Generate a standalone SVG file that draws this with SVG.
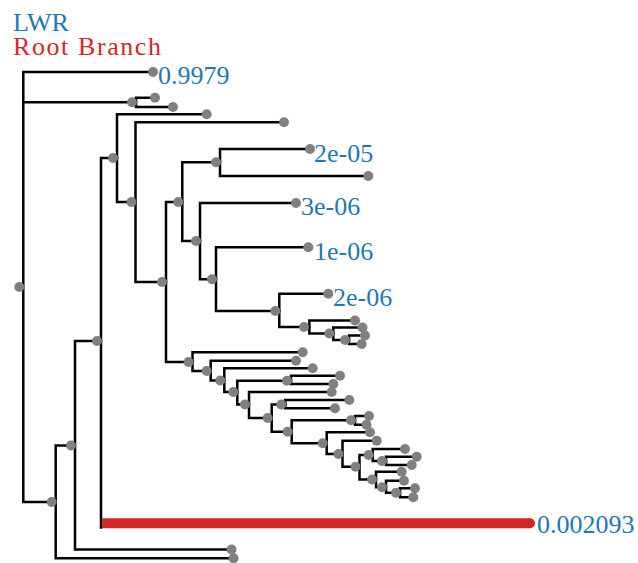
<svg xmlns="http://www.w3.org/2000/svg" width="638" height="563" viewBox="0 0 638 563">
<style>
.br{fill:none;stroke:#000;stroke-width:2.5;stroke-linejoin:miter;stroke-linecap:square}
.red{fill:none;stroke:#d62728;stroke-width:10}
.d{fill:#808080}
.lbl{font-family:"Liberation Serif","Times New Roman",serif;font-size:26px;fill:#1f77b4}
.rl{font-family:"Liberation Serif","Times New Roman",serif;font-size:26px;fill:#d62728}
</style>
<rect width="638" height="563" fill="#fff"/>
<g id="legend">
<text class="lbl" x="13" y="30.5">LWR</text>
<text class="rl" x="13" y="55" textLength="148">Root Branch</text>
</g>
<g id="connectors">
<path class="br" d="M153,72 H23.3 V502 H55.7"/>
<path class="br" d="M23.3,102.3 H136"/>
<path class="br" d="M155,97.7 H136 V107 H173"/>
<path class="br" d="M75,445.5 H55.7 V558.3 H233.5"/>
<path class="br" d="M101,341 H75 V549.5 H231.5"/>
<path class="br" d="M117,158 H101 V527.5"/>
<path class="red" d="M102,523.3 H530"/>
<path class="br" d="M206.7,114.3 H117 V202 H135.5"/>
<path class="br" d="M284,122.3 H135.5 V282 H166"/>
<path class="br" d="M182.3,202 H166 V362 H192.5"/>
<path class="br" d="M220,162.3 H182.3 V241 H200"/>
<path class="br" d="M310,149 H220 V176 H368.3"/>
<path class="br" d="M296,203 H200 V279.3 H216"/>
<path class="br" d="M308.3,247.3 H216 V311 H279.3"/>
<path class="br" d="M328.3,293.8 H279.3 V327 H309.3"/>
<path class="br" d="M355,320.5 H309.3 V333.5 H333.3"/>
<path class="br" d="M362.5,327.5 H333.3 V340 H349"/>
<path class="br" d="M365,335.5 H349 V344 H361.7"/>
<path class="br" d="M302.7,352.3 H192.5 V371 H210.7"/>
<path class="br" d="M296,360.7 H210.7 V380.5 H224.3"/>
<path class="br" d="M312.7,368.3 H224.3 V392 H237.3"/>
<path class="br" d="M291,380.7 H237.3 V404.5 H249"/>
<path class="br" d="M340,375.7 H291 V384 H333.3"/>
<path class="br" d="M331.7,392 H249 V418 H271.7"/>
<path class="br" d="M285.3,404.5 H271.7 V431.7 H291.7"/>
<path class="br" d="M349.3,400 H285.3 V408.3 H335"/>
<path class="br" d="M355,420.3 H291.7 V443.3 H326.7"/>
<path class="br" d="M369,416 H355 V424.7 H366.5"/>
<path class="br" d="M370,432.3 H326.7 V454 H342.5"/>
<path class="br" d="M376.7,440.7 H342.5 V466.8 H359.5"/>
<path class="br" d="M372.7,455 H359.5 V479.5 H376"/>
<path class="br" d="M405,449 H372.7 V461 H386"/>
<path class="br" d="M416.7,456.7 H386 V465 H411.7"/>
<path class="br" d="M401.7,471.7 H376 V487.3 H386"/>
<path class="br" d="M404,480.7 H386 V492.8 H400"/>
<path class="br" d="M415,488.3 H400 V497.3 H413.3"/>
</g>
<g id="nodes">
<g id="n-root"><circle class="d" cx="19.3" cy="287" r="5"/></g>
<g id="n-a"><circle class="d" cx="153" cy="72" r="5"/><text class="lbl" x="158" y="83.5">0.9979</text></g>
<g id="n-b"><circle class="d" cx="132" cy="102.3" r="5"/><circle class="d" cx="155" cy="97.7" r="5"/><circle class="d" cx="173" cy="107" r="5"/></g>
<g id="n-c"><circle class="d" cx="51.7" cy="502" r="5"/><circle class="d" cx="233.5" cy="558.3" r="5"/></g>
<g id="n-d"><circle class="d" cx="71" cy="445.5" r="5"/><circle class="d" cx="231.5" cy="549.5" r="5"/></g>
<g id="n-e"><circle class="d" cx="97" cy="341" r="5"/></g>
<g id="n-red"><circle cx="530" cy="523.3" r="5" fill="#d62728"/><text class="lbl" x="537" y="532.5">0.002093</text></g>
<g id="n-f"><circle class="d" cx="113" cy="158" r="5"/><circle class="d" cx="206.7" cy="114.3" r="5"/></g>
<g id="n-g"><circle class="d" cx="131.5" cy="202" r="5"/><circle class="d" cx="284" cy="122.3" r="5"/></g>
<g id="n-h"><circle class="d" cx="162" cy="282" r="5"/></g>
<g id="n-i"><circle class="d" cx="178.3" cy="202" r="5"/></g>
<g id="n-j"><circle class="d" cx="216" cy="162.3" r="5"/><circle class="d" cx="310" cy="149" r="5"/><circle class="d" cx="368.3" cy="176" r="5"/><text class="lbl" x="314" y="161.5">2e-05</text></g>
<g id="n-k"><circle class="d" cx="196" cy="241" r="5"/><circle class="d" cx="296" cy="203" r="5"/><text class="lbl" x="301" y="214.5">3e-06</text></g>
<g id="n-l"><circle class="d" cx="212" cy="279.3" r="5"/><circle class="d" cx="308.3" cy="247.3" r="5"/><text class="lbl" x="314" y="259.5">1e-06</text></g>
<g id="n-m"><circle class="d" cx="275.3" cy="311" r="5"/><circle class="d" cx="328.3" cy="293.8" r="5"/><text class="lbl" x="333" y="305.7">2e-06</text></g>
<g id="n-n"><circle class="d" cx="304" cy="327" r="5"/><circle class="d" cx="355" cy="320.5" r="5"/></g>
<g id="n-o"><circle class="d" cx="329.3" cy="333.5" r="5"/><circle class="d" cx="362.5" cy="327.5" r="5"/></g>
<g id="n-oo"><circle class="d" cx="345" cy="340" r="5"/><circle class="d" cx="365" cy="335.5" r="5"/><circle class="d" cx="361.7" cy="344" r="5"/></g>
<g id="n-p"><circle class="d" cx="188.5" cy="362" r="5"/><circle class="d" cx="302.7" cy="352.3" r="5"/></g>
<g id="n-q"><circle class="d" cx="206.7" cy="371" r="5"/><circle class="d" cx="296" cy="360.7" r="5"/></g>
<g id="n-r"><circle class="d" cx="220.3" cy="380.5" r="5"/><circle class="d" cx="312.7" cy="368.3" r="5"/></g>
<g id="n-s"><circle class="d" cx="233.3" cy="392" r="5"/></g>
<g id="n-t"><circle class="d" cx="287" cy="380.7" r="5"/><circle class="d" cx="340" cy="375.7" r="5"/><circle class="d" cx="333.3" cy="384" r="5"/></g>
<g id="n-u"><circle class="d" cx="245" cy="404.5" r="5"/><circle class="d" cx="331.7" cy="392" r="5"/></g>
<g id="n-v"><circle class="d" cx="267.7" cy="418" r="5"/></g>
<g id="n-w"><circle class="d" cx="281.3" cy="404.5" r="5"/><circle class="d" cx="349.3" cy="400" r="5"/><circle class="d" cx="335" cy="408.3" r="5"/></g>
<g id="n-x"><circle class="d" cx="287.7" cy="431.7" r="5"/></g>
<g id="n-y"><circle class="d" cx="351" cy="420.3" r="5"/><circle class="d" cx="369" cy="416" r="5"/><circle class="d" cx="366.5" cy="424.7" r="5"/></g>
<g id="n-z"><circle class="d" cx="322.7" cy="443.3" r="5"/><circle class="d" cx="370" cy="432.3" r="5"/></g>
<g id="n-aa"><circle class="d" cx="338.5" cy="454" r="5"/><circle class="d" cx="376.7" cy="440.7" r="5"/></g>
<g id="n-dd"><circle class="d" cx="355.5" cy="466.8" r="5"/></g>
<g id="n-bb"><circle class="d" cx="368.7" cy="455" r="5"/><circle class="d" cx="405" cy="449" r="5"/></g>
<g id="n-cc"><circle class="d" cx="382" cy="461" r="5"/><circle class="d" cx="416.7" cy="456.7" r="5"/><circle class="d" cx="411.7" cy="465" r="5"/></g>
<g id="n-ee"><circle class="d" cx="372" cy="479.5" r="5"/><circle class="d" cx="401.7" cy="471.7" r="5"/></g>
<g id="n-ff"><circle class="d" cx="382" cy="487.3" r="5"/><circle class="d" cx="404" cy="480.7" r="5"/></g>
<g id="n-gg"><circle class="d" cx="396" cy="492.8" r="5"/><circle class="d" cx="415" cy="488.3" r="5"/><circle class="d" cx="413.3" cy="497.3" r="5"/></g>
</g>
</svg>
